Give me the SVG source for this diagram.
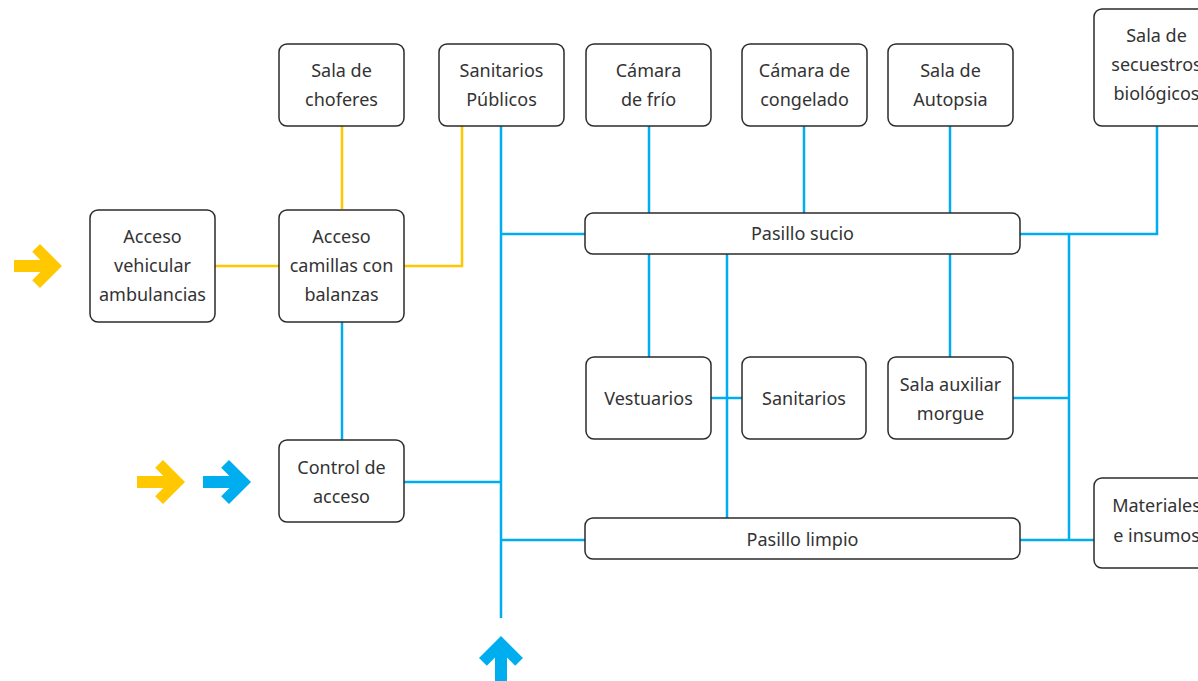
<svg xmlns="http://www.w3.org/2000/svg" width="1198" height="681" viewBox="0 0 1198 681">
<style>
.box{fill:#fff;stroke:#2b2b2b;stroke-width:1.5}
.t{font-family:"Noto Sans","Open Sans",sans-serif;font-size:18px;fill:#333;text-anchor:middle}
.y{stroke:#FFC800;stroke-width:2.5;fill:none}
.b{stroke:#00AEEF;stroke-width:2.5;fill:none}
</style>
<defs>
<polygon id="arr" points="0,-6 26.4,-6 18.2,-14.2 26,-22 48,0 26,22 18.2,14.2 26.4,6 0,6"/>
</defs>
<rect width="1198" height="681" fill="#fff"/>
<g id="connectors">
<path class="y" d="M342,126V209M215,266H279M404,266H462V126"/>
<path class="b" d="M342,322V440M404,482H501M501,126V618M501,234H585M501,540H585M649,126V213M804,126V213M950,126V213M649,254V357M727,254V518M711,398H742M950,254V357M1020,234H1157V126M1069,234V540M1013,398H1069M1020,540H1094"/>
</g>
<g id="arrows">
<use href="#arr" transform="translate(14,266)" fill="#FFC800"/>
<use href="#arr" transform="translate(137,482)" fill="#FFC800"/>
<use href="#arr" transform="translate(203,482)" fill="#00AEEF"/>
<use href="#arr" transform="translate(501,684) rotate(-90)" fill="#00AEEF"/>
</g>
<g id="sala-choferes"><rect class="box" x="279" y="44" width="125" height="82" rx="8"/><text class="t" x="341.5" y="77">Sala de</text><text class="t" x="341.5" y="106">choferes</text></g>
<g id="sanitarios-publicos"><rect class="box" x="439" y="44" width="125" height="82" rx="8"/><text class="t" x="501.5" y="77">Sanitarios</text><text class="t" x="501.5" y="106">Públicos</text></g>
<g id="camara-frio"><rect class="box" x="586" y="44" width="125" height="82" rx="8"/><text class="t" x="648.5" y="77">Cámara</text><text class="t" x="648.5" y="106">de frío</text></g>
<g id="camara-congelado"><rect class="box" x="742" y="44" width="125" height="82" rx="8"/><text class="t" x="804.5" y="77">Cámara de</text><text class="t" x="804.5" y="106">congelado</text></g>
<g id="sala-autopsia"><rect class="box" x="888" y="44" width="125" height="82" rx="8"/><text class="t" x="950.5" y="77">Sala de</text><text class="t" x="950.5" y="106">Autopsia</text></g>
<g id="sala-secuestros"><rect class="box" x="1094" y="9" width="125" height="117" rx="8"/><text class="t" x="1156.5" y="42">Sala de</text><text class="t" x="1156.5" y="71">secuestros</text><text class="t" x="1156.5" y="100">biológicos</text></g>
<g id="acceso-vehicular"><rect class="box" x="90" y="210" width="125" height="112" rx="8"/><text class="t" x="152.5" y="243">Acceso</text><text class="t" x="152.5" y="272">vehicular</text><text class="t" x="152.5" y="301">ambulancias</text></g>
<g id="acceso-camillas"><rect class="box" x="279" y="210" width="125" height="112" rx="8"/><text class="t" x="341.5" y="243">Acceso</text><text class="t" x="341.5" y="272">camillas con</text><text class="t" x="341.5" y="301">balanzas</text></g>
<g id="control-acceso"><rect class="box" x="279" y="440" width="125" height="82" rx="8"/><text class="t" x="341.5" y="474">Control de</text><text class="t" x="341.5" y="503">acceso</text></g>
<g id="pasillo-sucio"><rect class="box" x="585" y="213" width="435" height="41" rx="8"/><text class="t" x="802.5" y="240">Pasillo sucio</text></g>
<g id="vestuarios"><rect class="box" x="586" y="357" width="125" height="82" rx="8"/><text class="t" x="648.5" y="405">Vestuarios</text></g>
<g id="sanitarios"><rect class="box" x="742" y="357" width="124" height="82" rx="8"/><text class="t" x="804" y="405">Sanitarios</text></g>
<g id="sala-auxiliar"><rect class="box" x="888" y="357" width="125" height="82" rx="8"/><text class="t" x="950.5" y="391">Sala auxiliar</text><text class="t" x="950.5" y="420">morgue</text></g>
<g id="pasillo-limpio"><rect class="box" x="585" y="518" width="435" height="41" rx="8"/><text class="t" x="802.5" y="546">Pasillo limpio</text></g>
<g id="materiales"><rect class="box" x="1094" y="478" width="125" height="90" rx="8"/><text class="t" x="1156.5" y="512">Materiales</text><text class="t" x="1156.5" y="542">e insumos</text></g>
</svg>
